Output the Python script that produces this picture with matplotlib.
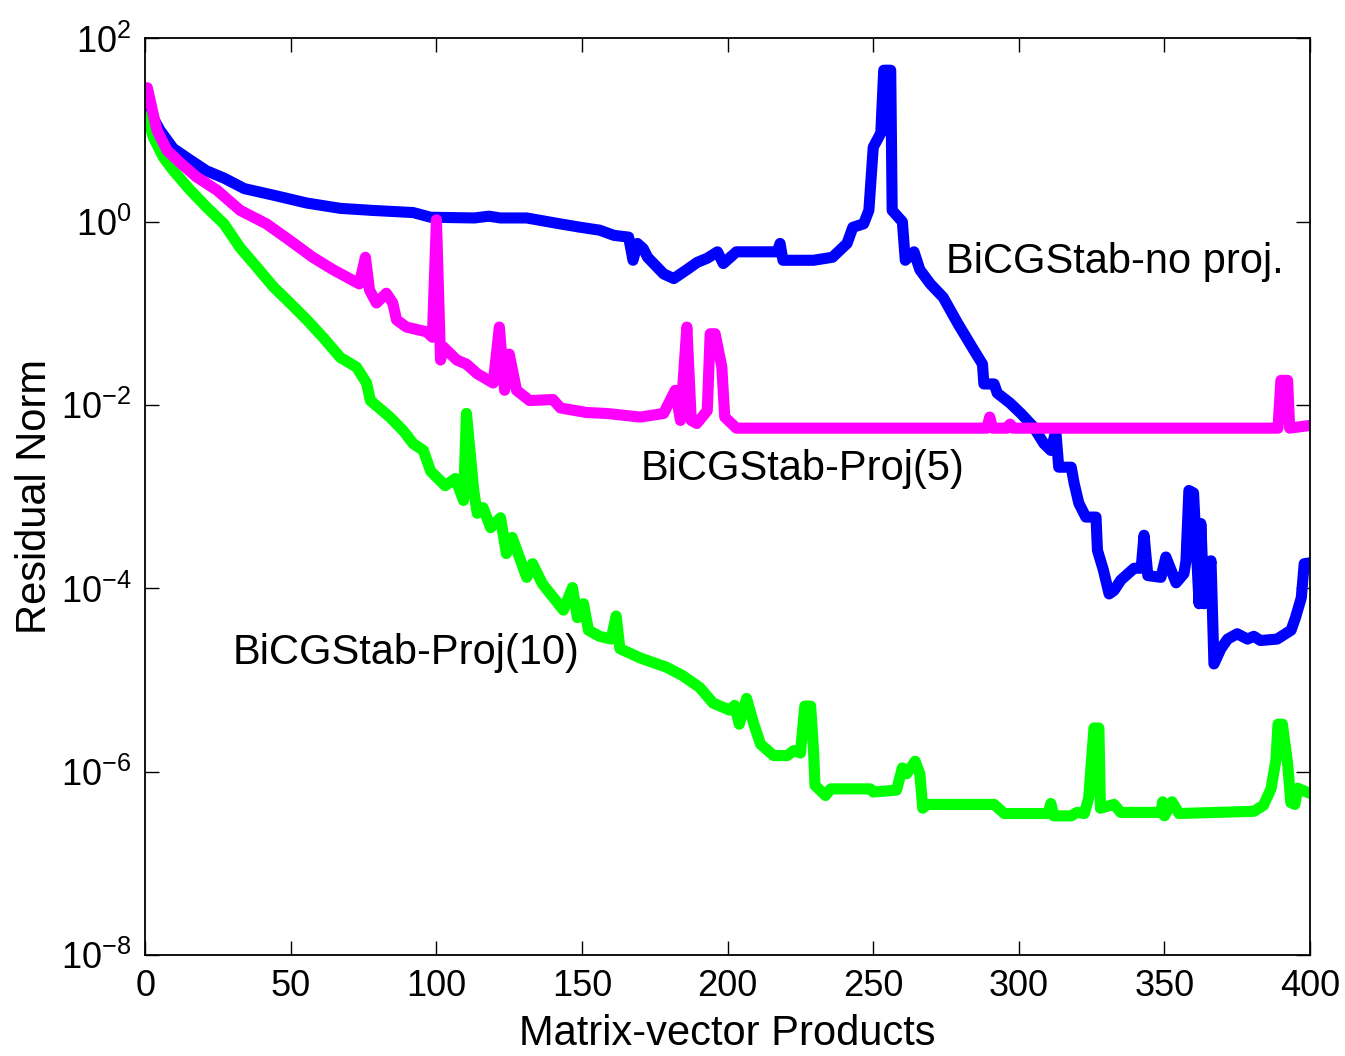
import matplotlib.pyplot as plt
from matplotlib.ticker import FixedLocator, NullLocator

plt.rcParams['font.family'] = ['Liberation Sans', 'DejaVu Sans']
plt.rcParams['mathtext.default'] = 'regular'
plt.rcParams['axes.unicode_minus'] = False

# -----------------------------
# Residual histories
# -----------------------------
noproj_x = [0, 2.5, 5, 9.6, 15.5, 21, 27, 34, 44, 55.5, 67, 78, 92, 98, 113, 118,
            122, 131, 141.5, 149.5, 156, 161, 166, 167.5, 169, 171, 172.5, 178,
            181.5, 186, 189.5, 193, 196.5, 198.5, 203, 217, 218, 219, 229.5, 236,
            241, 243, 246.7, 248.5, 250, 252.6, 253.6, 256, 256.5, 260, 261, 264,
            266, 269.6, 274, 279, 284.5, 287.5, 288, 291.5, 292.6, 297, 300.7,
            305, 308.6, 311, 312.7, 313.7, 318, 319, 320.6, 323, 326.5, 327, 329,
            331, 332.7, 335, 339.6, 342, 343, 344.3, 348.8, 350.5, 354, 356.7,
            357.4, 358.4, 360, 361.9, 362.5, 363.6, 366, 367, 369.4, 371.7, 375,
            378.5, 380.7, 383, 388.7, 393.5, 395, 397, 398, 400]
noproj_r = [20, 14, 10, 6.3, 4.7, 3.6, 3.0, 2.3, 1.95, 1.6, 1.4, 1.33, 1.26, 1.12,
            1.1, 1.15, 1.1, 1.1, 0.96, 0.87, 0.81, 0.71, 0.68, 0.38, 0.58, 0.51,
            0.41, 0.27, 0.24, 0.30, 0.36, 0.40, 0.47, 0.35, 0.47, 0.47, 0.58, 0.38,
            0.38, 0.41, 0.58, 0.87, 0.95, 1.33, 6.5, 9.3, 45, 45, 1.33, 1.0, 0.38,
            0.47, 0.30, 0.21, 0.15, 0.078, 0.040, 0.028, 0.017, 0.017, 0.0135,
            0.0105, 0.0081, 0.0058, 0.0038, 0.0032, 0.0052, 0.0021, 0.0021, 0.0014,
            8.5e-4, 6.0e-4, 6.0e-4, 2.6e-4, 1.6e-4, 8.7e-5, 9.5e-5, 1.23e-4,
            1.66e-4, 1.66e-4, 3.8e-4, 1.38e-4, 1.32e-4, 2.2e-4, 1.15e-4, 1.45e-4,
            2.0e-4, 1.17e-3, 1.1e-3, 6.8e-5, 5.1e-4, 6.8e-5, 2.0e-4, 1.5e-5,
            2.2e-5, 2.8e-5, 3.2e-5, 2.8e-5, 3.0e-5, 2.7e-5, 2.8e-5, 3.5e-5, 4.8e-5,
            7.9e-5, 1.86e-4, 1.9e-4]

proj5_x = [0.7, 2.4, 4, 7.5, 12, 17.5, 24.7, 32.6, 41.6, 49.5, 57.5, 64.5, 73.5,
           75.6, 77, 79.4, 82.8, 85, 86.3, 89.7, 96.6, 98.6, 100, 101.4, 102.4,
           107, 110.3, 114, 119.5, 121.6, 123.4, 125, 127.5, 132, 140, 142.6,
           151.5, 158.5, 170, 178, 182, 183.8, 186, 187.5, 189.4, 193, 194, 195.7,
           198, 199, 203, 289, 290, 291, 296, 297, 298, 389, 390, 392.3, 393, 400]
proj5_r = [29, 16.6, 10, 6.0, 4.4, 3.1, 2.2, 1.33, 0.95, 0.63, 0.41, 0.30, 0.21,
           0.41, 0.18, 0.13, 0.166, 0.13, 0.085, 0.071, 0.063, 0.055, 1.05, 0.031,
           0.043, 0.031, 0.028, 0.022, 0.0174, 0.071, 0.0145, 0.036, 0.0145,
           0.0112, 0.0115, 0.0093, 0.0083, 0.0081, 0.0074, 0.0081, 0.0145, 0.0068,
           0.071, 0.0068, 0.0063, 0.0087, 0.060, 0.060, 0.026, 0.0074, 0.0056,
           0.0056, 0.0074, 0.0056, 0.0056, 0.0062, 0.0056, 0.0056, 0.0186, 0.0186,
           0.0056, 0.006]

proj10_x = [0.7, 2.8, 6.3, 9.7, 15.5, 21, 27, 32.6, 38.3, 44, 49.8, 55.5, 61, 67,
            72.5, 76, 77.3, 84, 88.7, 92, 95.5, 98, 103, 106.5, 109.3, 110.3,
            112.8, 114, 116, 118.6, 122, 124, 126, 131, 133, 136.4, 143.6, 146.7,
            148.4, 150.5, 152.2, 156, 160, 161.7, 163, 170, 179, 184.5, 190.4, 195,
            200.7, 202.4, 204, 206.5, 209, 211.3, 215.8, 220.5, 222.7, 225, 226.5,
            228.5, 229.5, 230, 233.6, 235.4, 249, 250, 258, 260, 261.5, 264.4, 266,
            267, 268.7, 291.5, 295, 310, 311, 312, 318, 320, 322.5, 324, 325.8,
            327.5, 328, 332.7, 335, 348.8, 349.4, 350, 352.6, 355, 380.7, 384,
            386.6, 388.3, 389, 390.5, 392.3, 393.4, 394.8, 395.8, 400]
proj10_r = [14, 8.3, 5.0, 3.6, 2.2, 1.45, 0.95, 0.52, 0.32, 0.195, 0.129, 0.085,
            0.055, 0.033, 0.026, 0.0174, 0.0112, 0.0074, 0.0052, 0.0038, 0.0032,
            0.0019, 0.00132, 0.00158, 9.1e-4, 8.1e-3, 1.17e-3, 6.6e-4, 7.6e-4,
            4.6e-4, 5.9e-4, 2.4e-4, 3.6e-4, 1.32e-4, 1.86e-4, 1.12e-4, 5.8e-5,
            1.02e-4, 4.8e-5, 6.8e-5, 3.5e-5, 3.0e-5, 2.8e-5, 5.0e-5, 2.2e-5,
            1.74e-5, 1.38e-5, 1.12e-5, 8.3e-6, 5.6e-6, 4.7e-6, 5.3e-6, 3.3e-6,
            6.3e-6, 3.3e-6, 2.0e-6, 1.5e-6, 1.5e-6, 1.7e-6, 1.6e-6, 5.2e-6, 5.2e-6,
            1.7e-6, 7.1e-7, 5.5e-7, 6.5e-7, 6.5e-7, 6.0e-7, 6.3e-7, 1.1e-6, 9.5e-7,
            1.3e-6, 9.5e-7, 4.0e-7, 4.4e-7, 4.4e-7, 3.5e-7, 3.5e-7, 4.5e-7, 3.3e-7,
            3.3e-7, 3.6e-7, 3.5e-7, 5.2e-7, 3.0e-6, 3.0e-6, 4.0e-7, 4.4e-7, 3.6e-7,
            3.6e-7, 4.7e-7, 3.3e-7, 4.7e-7, 3.5e-7, 3.7e-7, 4.3e-7, 6.5e-7,
            1.35e-6, 3.3e-6, 3.3e-6, 1.23e-6, 4.6e-7, 4.4e-7, 6.6e-7, 5.8e-7]

x_ticks = [0, 50, 100, 150, 200, 250, 300, 350, 400]
y_ticks = [1e-8, 1e-6, 1e-4, 1e-2, 1e0, 1e2]

# -----------------------------
# Plot
# -----------------------------
fig = plt.figure(figsize=(13.45, 10.56), dpi=100)
ax = fig.add_axes([0.108, 0.0956, 0.866, 0.868])

lw = 8
line_kw = dict(linewidth=lw, solid_joinstyle='round', solid_capstyle='round')
ax.plot(noproj_x, noproj_r, color=(0, 0, 1), **line_kw)
ax.plot(proj10_x, proj10_r, color=(0, 1, 0), **line_kw)
ax.plot(proj5_x, proj5_r, color=(1, 0, 1), **line_kw)

ax.set_yscale('log')
ax.set_xlim(0, 400)
ax.set_ylim(1e-8, 1e2)
ax.xaxis.set_major_locator(FixedLocator(x_ticks))
ax.yaxis.set_major_locator(FixedLocator(y_ticks))
ax.yaxis.set_minor_locator(NullLocator())

ax.tick_params(direction='in', length=10, width=1, top=True, right=True,
               labelsize=26, pad=10)
for sp in ax.spines.values():
    sp.set_linewidth(1.3)

ax.text(275, 0.36, 'BiCGStab-no proj.', fontsize=30, va='center')
ax.text(170, 2.0e-3, 'BiCGStab-Proj(5)', fontsize=30, va='center')
ax.text(30, 1.95e-5, 'BiCGStab-Proj(10)', fontsize=30, va='center')

ax.set_xlabel('Matrix-vector Products', fontsize=30, labelpad=7)
ax.set_ylabel('Residual Norm', fontsize=30, labelpad=4)

fig.savefig('out.png', dpi=100)
